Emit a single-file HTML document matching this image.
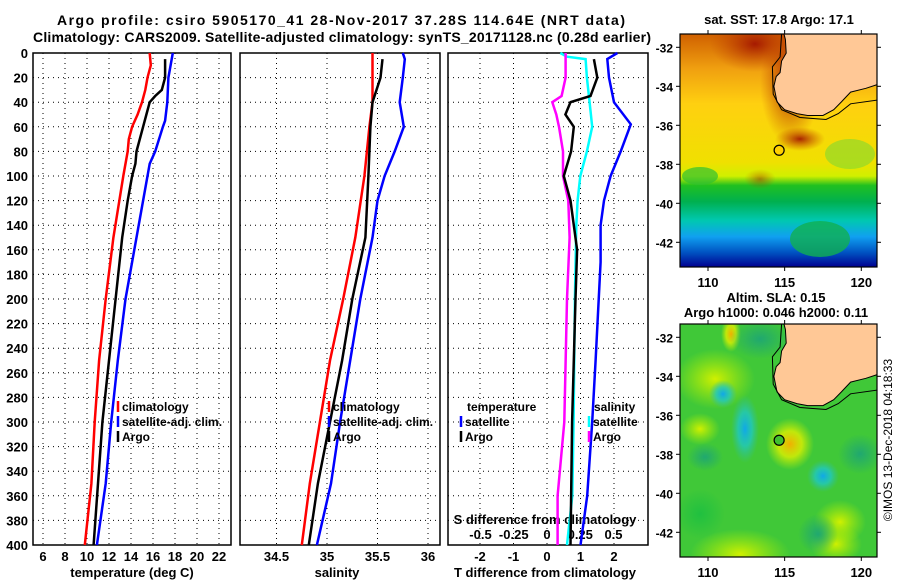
<!DOCTYPE html>
<html><head><meta charset="utf-8"><style>
body{margin:0;background:#fff}
svg{display:block;font-family:"Liberation Sans",sans-serif;font-weight:bold}
</style></head><body>
<svg id="c" width="900" height="580" viewBox="0 0 900 580">
<defs>
<linearGradient id="sst" x1="0" y1="0" x2="0" y2="1">
<stop offset="0" stop-color="#d06000"/><stop offset="0.15" stop-color="#f0a010"/>
<stop offset="0.3" stop-color="#ffd010"/><stop offset="0.55" stop-color="#f0e000"/>
<stop offset="0.61" stop-color="#d0f000"/><stop offset="0.65" stop-color="#20c020"/>
<stop offset="0.72" stop-color="#00b050"/><stop offset="0.8" stop-color="#00c8b0"/>
<stop offset="0.87" stop-color="#10a0f0"/><stop offset="0.94" stop-color="#0050c0"/>
<stop offset="1" stop-color="#000090"/></linearGradient>
<radialGradient id="red"><stop offset="0" stop-color="#a01000" stop-opacity="0.9"/><stop offset="1" stop-color="#c04000" stop-opacity="0"/></radialGradient>
<radialGradient id="yel"><stop offset="0" stop-color="#f0b000"/><stop offset="0.5" stop-color="#e0f000" stop-opacity="0.8"/><stop offset="1" stop-color="#c0f000" stop-opacity="0"/></radialGradient>
<radialGradient id="ltg"><stop offset="0" stop-color="#d0f000"/><stop offset="1" stop-color="#b0f000" stop-opacity="0"/></radialGradient>
<radialGradient id="cy"><stop offset="0" stop-color="#10a8e8"/><stop offset="0.5" stop-color="#20c8c0" stop-opacity="0.8"/><stop offset="1" stop-color="#30c0a0" stop-opacity="0"/></radialGradient>
<radialGradient id="dg"><stop offset="0" stop-color="#20a870"/><stop offset="1" stop-color="#20a870" stop-opacity="0"/></radialGradient>
<radialGradient id="gb"><stop offset="0" stop-color="#20c040"/><stop offset="1" stop-color="#20c040" stop-opacity="0"/></radialGradient>
<clipPath id="m1c"><rect x="680" y="34" width="197" height="233"/></clipPath>
<clipPath id="m2c"><rect x="680" y="324" width="197" height="233"/></clipPath>
</defs>
<text x="341" y="25" text-anchor="middle" font-size="14" textLength="568" lengthAdjust="spacing">Argo profile: csiro 5905170_41 28-Nov-2017 37.28S 114.64E (NRT data)</text>
<text x="342" y="42" text-anchor="middle" font-size="14" textLength="618" lengthAdjust="spacing">Climatology: CARS2009. Satellite-adjusted climatology: synTS_20171128.nc (0.28d earlier)</text>
<g id="g"></g>
</svg>
<script>
// ---- data ----
const depthTicks=[0,20,40,60,80,100,120,140,160,180,200,220,240,260,280,300,320,340,360,380,400];
const tempTicks=[6,8,10,12,14,16,18,20,22];
const salTicks=[34.5,35,35.5,36];
const salTickLabels=["34.5","35","35.5","36"];
const tdiffTicks=[-2,-1,0,1,2];
const sdiffTicks=[-0.5,-0.25,0,0.25,0.5];
const sdiffLabels=["-0.5","-0.25","0","0.25","0.5"];

const tClimDepth=[0,10,20,30,40,50,60,70,80,100,150,200,250,300,350,400];
const tClim=[15.7,15.8,15.5,15.3,15.0,14.6,14.1,13.8,13.7,13.3,12.4,11.7,11.1,10.7,10.4,9.8];
const tArgoDepth=[5,20,30,35,40,50,60,80,90,100,120,150,200,250,300,350,400];
const tArgo=[17.1,17.1,16.8,16.2,15.7,15.4,15.1,14.5,14.4,14.1,13.7,13.2,12.6,12.0,11.4,11.0,10.6];
const tSatDepth=[0,20,40,55,60,80,90,100,150,200,250,300,350,400];
const tSat=[17.8,17.4,17.3,17.1,16.9,16.2,15.7,15.5,14.5,13.5,12.8,12.2,11.7,10.9];

const sClimDepth=[0,40,60,100,150,200,250,300,350,400];
const sClim=[35.45,35.45,35.42,35.37,35.28,35.16,35.03,34.93,34.83,34.75];
const sArgoDepth=[5,20,40,60,100,150,200,250,300,350,400];
const sArgo=[35.55,35.53,35.45,35.43,35.41,35.38,35.25,35.15,35.03,34.91,34.82];
const sSatDepth=[0,5,20,40,60,80,100,120,150,200,250,300,350,400];
const sSat=[35.75,35.77,35.75,35.72,35.76,35.67,35.57,35.5,35.45,35.33,35.23,35.13,35.04,34.9];

const dTSatDepth=[0,5,20,40,58,80,100,120,140,170,250,300,360,400];
const dTSat=[2.1,1.8,1.85,2.0,2.5,2.2,1.9,1.7,1.6,1.6,1.45,1.35,1.2,1.0];
const dSSatDepth=[0,3,5,20,40,60,80,100,120,140,200,300,360,400];
const dSSat=[0.1,0.15,0.29,0.3,0.32,0.34,0.3,0.25,0.23,0.22,0.21,0.2,0.19,0.15];
const dTArgoDepth=[5,20,35,40,50,60,80,100,120,140,160,200,300,400];
const dTArgo=[1.4,1.5,1.3,0.7,0.55,0.8,0.72,0.5,0.7,0.8,0.9,0.85,0.75,0.7];
const dSArgoDepth=[0,20,35,40,50,60,80,100,120,150,200,300,360,400];
const dSArgo=[0.14,0.14,0.11,0.04,0.07,0.09,0.12,0.12,0.16,0.17,0.15,0.13,0.08,0.08];

const argoLon=114.64, argoLat=-37.28;
const coast=[[114.95,-31.3],[115.05,-31.6],[115.1,-32.3],[114.8,-32.7],[114.7,-33.3],[114.45,-33.5],[114.3,-34.0],[114.5,-34.8],[115.0,-35.2],[115.8,-35.4],[116.5,-35.5],[117.5,-35.5],[118.2,-35.2],[118.7,-34.8],[119.3,-34.3],[120.3,-34.1],[121.1,-33.9]];
const isobath=[[114.8,-31.3],[114.7,-32.5],[114.2,-33.0],[114.25,-34.4],[114.8,-35.2],[116,-35.6],[117.7,-35.7],[118.5,-35.4],[119.3,-34.9],[121.1,-34.7]];

// ---- scales ----
const yD=d=>53+d*1.23;
const xT=t=>43+(t-6)*11;
const xS=s=>327+(s-35)*101;
const xDT=v=>547+v*33.5;
const xDS=v=>547+v*133;
const mX=lon=>708+(lon-110)*15.33;
const mY=(lat,off)=>47.3+off+(-32-lat)*19.5;

const NS="http://www.w3.org/2000/svg";
const G=document.getElementById('g');
function el(t,a,p){const e=document.createElementNS(NS,t);for(const k in a)e.setAttribute(k,a[k]);(p||G).appendChild(e);return e;}
function txt(x,y,s,anchor,size){const e=el('text',{x:x,y:y,'text-anchor':anchor||'middle','font-size':size||13});e.textContent=s;return e;}

function panel(x0,x1,name){
  const r=el('rect',{x:x0,y:53,width:x1-x0,height:492,fill:'none',stroke:'#000','stroke-width':1.5});
  
  
  depthTicks.forEach(d=>{if(d>0&&d<400){const l=el('line',{x1:x0,x2:x1,y1:yD(d),y2:yD(d),stroke:'#000','stroke-dasharray':'1,4'});
    
    }});
}
function vgrid(xs,name){xs.forEach(x=>{const l=el('line',{x1:x,x2:x,y1:53,y2:545,stroke:'#000','stroke-dasharray':'1,4'});
  
  });}
function line(ds,vs,sx,color,name){
  const pts=ds.map((d,i)=>sx(vs[i]).toFixed(1)+','+yD(d).toFixed(1)).join(' ');
  const p=el('polyline',{points:pts,fill:'none',stroke:color,'stroke-width':2.5});
  
  
}
function legItem(x,y,color,label,name){
  const l=el('line',{x1:x,x2:x,y1:y-10,y2:y+1,stroke:color,'stroke-width':2.5});
  
  
  const t=txt(x+4,y,label,'start',12);
  
  
}

// panel 1
panel(33,231,'temperature-panel');
vgrid(tempTicks.map(xT),'temperature-grid');
depthTicks.forEach(d=>{const t=txt(28,yD(d)+5,String(d),'end',13);
  
  });
tempTicks.forEach(v=>{const t=txt(xT(v),561,String(v));
  
  });
let t1=txt(132,577,'temperature (deg C)');


line(tClimDepth,tClim,xT,'#f00','temp-climatology-line');
line(tSatDepth,tSat,xT,'#00f','temp-satellite-line');
line(tArgoDepth,tArgo,xT,'#000','temp-argo-line');
legItem(118,411,'#f00','climatology','legend-climatology');
legItem(118,426,'#00f','satellite-adj. clim.','legend-satellite');
legItem(118,441,'#000','Argo','legend-argo');

// panel 2
panel(240,440,'salinity-panel');
vgrid(salTicks.map(xS),'salinity-grid');
salTicks.forEach((v,i)=>{const t=txt(xS(v),561,salTickLabels[i]);
  
  });
let t2=txt(337,577,'salinity');


line(sClimDepth,sClim,xS,'#f00','sal-climatology-line');
line(sSatDepth,sSat,xS,'#00f','sal-satellite-line');
line(sArgoDepth,sArgo,xS,'#000','sal-argo-line');
legItem(329,411,'#f00','climatology','legend-climatology');
legItem(329,426,'#00f','satellite-adj. clim.','legend-satellite');
legItem(329,441,'#000','Argo','legend-argo');

// panel 3
panel(448,648,'difference-panel');
vgrid(tdiffTicks.map(xDT),'difference-grid');
tdiffTicks.forEach(v=>{const t=txt(xDT(v),561,String(v));
  
  });
sdiffTicks.forEach((v,i)=>{const t=txt(xDS(v),539,sdiffLabels[i]);
  
  });
let t3=txt(545,524,'S difference from climatology');


let t4=txt(545,577,'T difference from climatology');


line(dTSatDepth,dTSat,xDT,'#00f','tdiff-satellite-line');
line(dSSatDepth,dSSat,xDS,'#0ff','sdiff-satellite-line');
line(dSArgoDepth,dSArgo,xDS,'#f0f','sdiff-argo-line');
line(dTArgoDepth,dTArgo,xDT,'#000','tdiff-argo-line');
let h1=txt(467,411,'temperature','start',12);


legItem(461,426,'#00f','satellite','legend-t-satellite');
legItem(461,441,'#000','Argo','legend-t-argo');
let h2=txt(594,411,'salinity','start',12);


legItem(589,426,'#0ff','satellite','legend-s-satellite');
legItem(589,441,'#f0f','Argo','legend-s-argo');

// maps
function map(off,kind,clip){
  const g=el('g',{'clip-path':'url(#'+clip+')'});
  
  
  const y0=34+off;
  if(kind==='sst'){
    el('rect',{x:680,y:y0,width:197,height:233,fill:'url(#sst)'},g);
    el('ellipse',{cx:755,cy:y0+10,rx:45,ry:28,fill:'url(#red)'},g);
    el('ellipse',{cx:790,cy:y0+50,rx:30,ry:60,fill:'url(#red)'},g);
    el('ellipse',{cx:800,cy:y0+105,rx:25,ry:12,fill:'url(#red)'},g);
    el('ellipse',{cx:760,cy:y0+145,rx:16,ry:10,fill:'url(#red)','opacity':0.5},g);
    el('ellipse',{cx:850,cy:y0+120,rx:25,ry:15,fill:'#80d830','opacity':0.6},g);
    el('ellipse',{cx:700,cy:y0+142,rx:18,ry:9,fill:'#30c030','opacity':0.7},g);
    el('ellipse',{cx:820,cy:y0+205,rx:30,ry:18,fill:'#10b050','opacity':0.8},g);
  } else {
    el('rect',{x:680,y:y0,width:197,height:233,fill:'#40c838'},g);
    const blobs=[[715,y0+55,40,30,'ltg'],[731,y0+10,10,18,'yel'],[760,y0+15,30,20,'dg'],[723,y0+70,14,14,'cy'],[745,y0+105,14,34,'cy'],[790,y0+120,24,26,'yel'],[823,y0+152,16,16,'cy'],[700,y0+105,20,16,'ltg'],[705,y0+133,18,14,'dg'],[836,y0+220,26,20,'ltg'],[840,y0+198,26,22,'ltg'],[818,y0+210,20,20,'dg'],[740,y0+230,50,25,'ltg'],[860,y0+130,22,20,'dg'],[700,y0+190,25,25,'gb']];
    blobs.forEach(b=>el('ellipse',{cx:b[0],cy:b[1],rx:b[2],ry:b[3],fill:'url(#'+b[4]+')'},g));
  }
  const cp=coast.map(p=>mX(p[0]).toFixed(1)+','+mY(p[1],off).toFixed(1));
  const land=el('polygon',{points:cp.join(' ')+' '+mX(121.1)+','+(y0-2),fill:'#ffc896',stroke:'#000','stroke-width':1},g);
  
  
  const ip=isobath.map(p=>mX(p[0]).toFixed(1)+','+mY(p[1],off).toFixed(1)).join(' ');
  el('polyline',{points:ip,fill:'none',stroke:'#000','stroke-width':1},g);
  const c=el('circle',{cx:mX(argoLon),cy:mY(argoLat,off),r:5,fill:kind==='sst'?'#ffd000':'#40c030',stroke:'#000','stroke-width':1.2});
  
  
  const fr=el('rect',{x:680,y:y0,width:197,height:233,fill:'none',stroke:'#000','stroke-width':1.2});
  
  
  [-32,-34,-36,-38,-40,-42].forEach(lat=>{const y=mY(lat,off);
    el('line',{x1:680,x2:676,y1:y,y2:y,stroke:'#000'});
    el('line',{x1:877,x2:881,y1:y,y2:y,stroke:'#000'});
    const t=txt(673,y+5,String(lat),'end',12);
    
    });
  [110,115,120].forEach(lon=>{const x=mX(lon);
    el('line',{x1:x,x2:x,y1:y0,y2:y0-4,stroke:'#000'});
    el('line',{x1:x,x2:x,y1:y0+233,y2:y0+237,stroke:'#000'});
    const t=txt(x,y0+253,String(lon),'middle',13);
    
    });
}
map(0,'sst','m1c');
map(290,'sla','m2c');
let mt1=txt(779,24,'sat. SST: 17.8 Argo: 17.1','middle',13);


let mt2=txt(776,302,'Altim. SLA: 0.15','middle',13);


let mt3=txt(776,317,'Argo h1000: 0.046 h2000: 0.11','middle',13);


let cr=txt(0,0,'©IMOS 13-Dec-2018 04:18:33','middle',12);
cr.setAttribute('transform','translate(892,440) rotate(-90)');
cr.setAttribute('font-weight','normal');


</script>
</body></html>
